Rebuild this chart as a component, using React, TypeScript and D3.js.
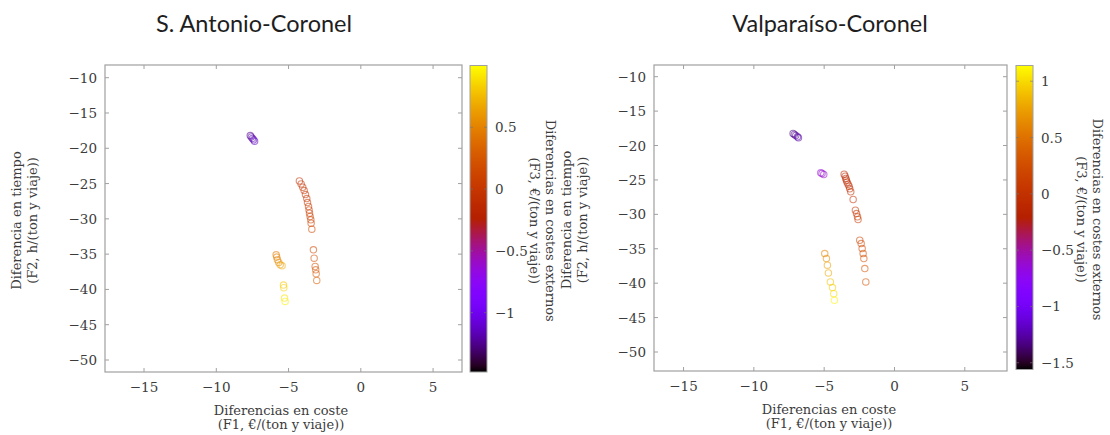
import React from 'react';
import * as d3 from 'd3';

// ---- data ----
const xTicks = [-15, -10, -5, 0, 5];
const yTicks = [-10, -15, -20, -25, -30, -35, -40, -45, -50];
const saCbTicks = [0.5, 0, -0.5, -1];
const vcCbTicks = [1, 0.5, 0, -0.5, -1, -1.5];

const titles = ['S. Antonio-Coronel', 'Valparaíso-Coronel'];
const xLabel = ['Diferencias en coste', '(F1, €/(ton y viaje))'];
const yLabel = ['Diferencia en tiempo', '(F2, h/(ton y viaje))'];
const cbLabel = ['Diferencias en costes externos', '(F3, €/(ton y viaje))'];

// S. Antonio-Coronel
const saF1 = [
  -7.65, -7.58, -7.5, -7.42, -7.35,
  -4.25, -4.13, -4.02, -3.92, -3.83, -3.74, -3.69, -3.62, -3.58, -3.55, -3.51, -3.46, -3.44, -3.39,
  -3.28, -3.23, -3.16, -3.12, -3.09, -3.05,
  -5.86, -5.82, -5.77, -5.68, -5.58, -5.45,
  -5.35, -5.33, -5.28, -5.24,
];
const saF2 = [
  -18.2, -18.4, -18.6, -18.8, -19.0,
  -24.62, -25.05, -25.52, -25.99, -26.56, -27.12, -27.69, -28.25, -28.73, -29.2, -29.67, -30.14, -30.61, -31.46,
  -34.39, -35.57, -36.75, -37.22, -37.78, -38.73,
  -35.09, -35.42, -35.8, -36.18, -36.51, -36.65,
  -39.39, -39.76, -41.23, -41.7,
];
const saF3 = [
  -1.25, -1.2, -1.2, -1.15, -1.15,
  -0.05, -0.04, -0.02, 0.0, 0.01, 0.02, 0.04, 0.05, 0.06, 0.08, 0.09, 0.1, 0.12, 0.14,
  0.15, 0.2, 0.2, 0.25, 0.25, 0.3,
  0.45, 0.5, 0.5, 0.55, 0.6, 0.7,
  0.8, 0.85, 0.9, 0.95,
];

// Valparaíso-Coronel
const vcF1 = [
  -7.21, -7.12, -7.02, -6.9, -6.83,
  -5.24, -5.15, -5.03,
  -3.58, -3.51, -3.46, -3.42, -3.37, -3.3, -3.23, -3.18, -3.11, -2.94, -2.78, -2.7, -2.63, -2.59,
  -2.47, -2.37, -2.3, -2.23, -2.18, -2.11, -2.04,
  -4.96, -4.84, -4.77, -4.7, -4.56, -4.41, -4.32, -4.27,
];
const vcF2 = [
  -18.24, -18.39, -18.53, -18.73, -18.87,
  -23.96, -24.06, -24.21,
  -24.16, -24.45, -24.79, -25.03, -25.32, -25.61, -25.9, -26.29, -26.73, -27.84, -29.39, -29.88, -30.36, -30.75,
  -33.76, -34.24, -34.97, -35.7, -36.42, -37.88, -39.82,
  -35.7, -36.42, -37.39, -38.51, -39.82, -40.64, -41.52, -42.48,
];
const vcF3 = [
  -1.35, -1.3, -1.3, -1.25, -1.25,
  -0.65, -0.6, -0.6,
  -0.15, -0.13, -0.11, -0.1, -0.08, -0.06, -0.05, -0.03, -0.02, 0.0, 0.03, 0.05, 0.07, 0.1,
  0.15, 0.2, 0.2, 0.25, 0.25, 0.3, 0.3,
  0.6, 0.65, 0.75, 0.8, 0.9, 0.95, 1.0, 1.1,
];

// gnuplot default palette (rgbformulae 7,5,15)
function gnuplotColor(t: number): string {
  const c = Math.max(0, Math.min(1, t));
  const r = Math.sqrt(c);
  const g = c * c * c;
  const b = Math.max(0, Math.sin(2 * Math.PI * c));
  return d3.rgb(r * 255, g * 255, b * 255).formatHex();
}

const minus = (v: number) => String(v).replace('-', '\u2212');

const SERIF = "'DejaVu Serif', 'Liberation Serif', serif";
const TXT = '#3c3c3c';
const FRAME = '#a0a0a0';
const LAB = 13;
const TICK = 13.5;

type PanelProps = {
  id: string;
  title: string;
  titleX: number;
  frame: { x0: number; x1: number; y0: number; y1: number };
  xDomain: [number, number];
  yDomain: [number, number];
  cb: { x0: number; x1: number; y0: number; y1: number };
  cbDomain: [number, number];
  cbTicks: number[];
  f1: number[];
  f2: number[];
  f3: number[];
  yLabX: number;
  cbLabX: number;
  xLabX: number;
};

function Panel(p: PanelProps) {
  const { frame, cb } = p;
  const x = d3.scaleLinear().domain(p.xDomain).range([frame.x0, frame.x1]);
  const y = d3.scaleLinear().domain(p.yDomain).range([frame.y1, frame.y0]);
  const zPos = d3.scaleLinear().domain(p.cbDomain).range([0, 1]);
  const cbY = d3.scaleLinear().domain(p.cbDomain).range([cb.y1, cb.y0]);
  const stops = d3.range(0, 1.0001, 0.02);
  const tl = 4;
  const yMid = (frame.y0 + frame.y1) / 2 + 2;
  const cbMid = (cb.y0 + cb.y1) / 2 + 2;
  return (
    <g>
      <defs>
        <linearGradient id={p.id + '-grad'} x1="0" y1="1" x2="0" y2="0">
          {stops.map((s) => (
            <stop key={s} offset={s} stopColor={gnuplotColor(s)} />
          ))}
        </linearGradient>
      </defs>
      <text x={p.titleX} y={32} textAnchor="middle" fontFamily="Lato, 'Open Sans', sans-serif" fontSize={23.5} fill="#1e1e1e">
        {p.title}
      </text>
      {/* frame */}
      <rect x={frame.x0} y={frame.y0} width={frame.x1 - frame.x0} height={frame.y1 - frame.y0} fill="white" stroke={FRAME} strokeWidth={1.2} />
      {xTicks.map((t) => (
        <g key={'x' + t}>
          <line x1={x(t)} x2={x(t)} y1={frame.y1} y2={frame.y1 - tl} stroke={FRAME} />
          <line x1={x(t)} x2={x(t)} y1={frame.y0} y2={frame.y0 + tl} stroke={FRAME} />
          <text x={x(t)} y={frame.y1 + 20} textAnchor="middle" fontFamily={SERIF} fontSize={TICK} fill={TXT}>
            {minus(t)}
          </text>
        </g>
      ))}
      {yTicks.map((t) => (
        <g key={'y' + t}>
          <line x1={frame.x0} x2={frame.x0 + tl} y1={y(t)} y2={y(t)} stroke={FRAME} />
          <line x1={frame.x1} x2={frame.x1 - tl} y1={y(t)} y2={y(t)} stroke={FRAME} />
          <text x={frame.x0 - 8} y={y(t) + 5} textAnchor="end" fontFamily={SERIF} fontSize={TICK} fill={TXT}>
            {minus(t)}
          </text>
        </g>
      ))}
      {/* points */}
      {p.f1.map((v, i) => (
        <circle
          key={'p' + i}
          cx={x(v)}
          cy={y(p.f2[i])}
          r={3.2}
          fill="none"
          stroke={gnuplotColor(zPos(p.f3[i]))}
          strokeWidth={1.1}
          strokeOpacity={0.55}
        />
      ))}
      {/* x label */}
      <text x={p.xLabX} y={frame.y1 + 43} textAnchor="middle" fontFamily={SERIF} fontSize={LAB} fill={TXT}>
        {xLabel[0]}
      </text>
      <text x={p.xLabX} y={frame.y1 + 57} textAnchor="middle" fontFamily={SERIF} fontSize={LAB} fill={TXT}>
        {xLabel[1]}
      </text>
      {/* y label */}
      <g transform={`translate(${p.yLabX},${yMid}) rotate(-90)`}>
        <text x={0} y={0} textAnchor="middle" fontFamily={SERIF} fontSize={LAB} fill={TXT}>
          {yLabel[0]}
        </text>
        <text x={0} y={16} textAnchor="middle" fontFamily={SERIF} fontSize={LAB} fill={TXT}>
          {yLabel[1]}
        </text>
      </g>
      {/* colorbar */}
      <rect x={cb.x0} y={cb.y0} width={cb.x1 - cb.x0} height={cb.y1 - cb.y0} fill={`url(#${p.id}-grad)`} stroke={FRAME} strokeWidth={1} />
      {p.cbTicks.map((t) => (
        <g key={'c' + t}>
          <line x1={cb.x0} x2={cb.x0 + 3} y1={cbY(t)} y2={cbY(t)} stroke="#777" strokeOpacity={0.6} />
          <line x1={cb.x1} x2={cb.x1 - 3} y1={cbY(t)} y2={cbY(t)} stroke="#777" strokeOpacity={0.6} />
          <text x={cb.x1 + 8} y={cbY(t) + 5} textAnchor="start" fontFamily={SERIF} fontSize={TICK} fill={TXT}>
            {minus(t)}
          </text>
        </g>
      ))}
      <g transform={`translate(${p.cbLabX},${cbMid}) rotate(90)`}>
        <text x={0} y={0} textAnchor="middle" fontFamily={SERIF} fontSize={LAB} fill={TXT}>
          {cbLabel[0]}
        </text>
        <text x={0} y={16} textAnchor="middle" fontFamily={SERIF} fontSize={LAB} fill={TXT}>
          {cbLabel[1]}
        </text>
      </g>
    </g>
  );
}

export default function App() {
  return (
    <svg
      width={1110}
      height={435}
      viewBox="0 0 1110 435"
      style={{ position: 'absolute', left: 0, top: 0, background: 'white' }}
    >
      <rect x={0} y={0} width={1110} height={435} fill="white" />
      <Panel
        id="sa"
        title={titles[0]}
        titleX={254}
        frame={{ x0: 105, x1: 462, y0: 65, y1: 372 }}
        xDomain={[-17.7, 7.0]}
        yDomain={[-51.7, -8.2]}
        cb={{ x0: 470, x1: 487, y0: 65.5, y1: 372 }}
        cbDomain={[-1.48, 1.0]}
        cbTicks={saCbTicks}
        f1={saF1}
        f2={saF2}
        f3={saF3}
        yLabX={21}
        cbLabX={546}
        xLabX={281}
      />
      <Panel
        id="vc"
        title={titles[1]}
        titleX={830}
        frame={{ x0: 654, x1: 1007, y0: 65, y1: 371 }}
        xDomain={[-17.1, 8.0]}
        yDomain={[-52.76, -8.3]}
        cb={{ x0: 1016, x1: 1033, y0: 65.5, y1: 369.5 }}
        cbDomain={[-1.56, 1.14]}
        cbTicks={vcCbTicks}
        f1={vcF1}
        f2={vcF2}
        f3={vcF3}
        yLabX={571}
        cbLabX={1093}
        xLabX={829}
      />
    </svg>
  );
}
